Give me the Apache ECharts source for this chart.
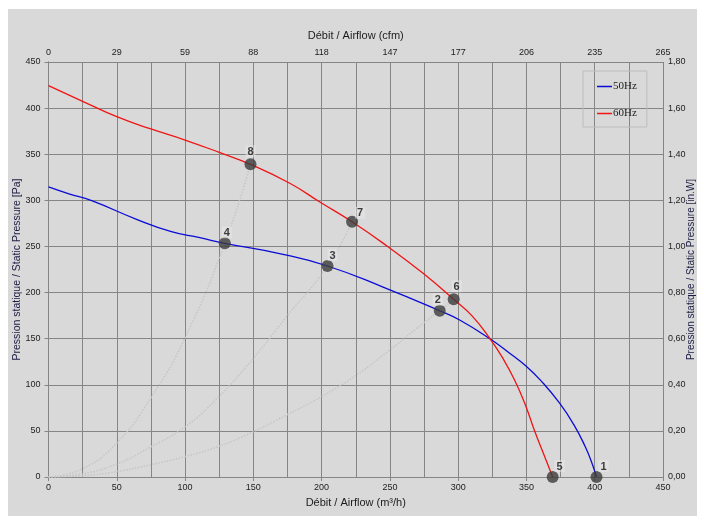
<!DOCTYPE html>
<html>
<head>
<meta charset="utf-8">
<title>Débit / Pression</title>
<script src="https://cdn.jsdelivr.net/npm/echarts@6/dist/echarts.min.js"></script>
<style>
	html, body { margin: 0; padding: 0; background: #fff; }
	#chart { width: 704px; height: 525px; }
</style>
</head>
<body>
<div id="chart"></div>
<script>
	// courbes : [débit m³/h, pression Pa]
	var curve50 = [[0,314.5],[15,307],[31.6,299.6],[64.5,279.4],[90,266],[110.8,259.5],[129.1,253.4],[170,242],[204.3,228.8],[245,206],[286.5,180.3],[301.1,170.2],[323.5,149.6],[337,135],[349.9,120],[360.9,104],[374.3,80],[385,56],[393,33],[398,15],[401.3,0]];
	var curve60 = [[0,424.3],[25,407.4],[50,390.7],[75,377.4],[100,365.4],[125,352],[147.9,339],[176.7,318.5],[198.7,298.2],[222.3,276.8],[248.6,249.7],[274.3,220.9],[296.7,192.7],[310,175],[323.5,149.6],[333,128],[341.3,105.2],[349,79],[356,49.9],[362.6,25],[369.2,0]];

	// courbes réseau (pointillés)
	var system1 = [[0,0],[25,9],[50,37],[75,86],[100,151],[129.1,253.4],[147.9,339]];
	var system2 = [[0,0],[25,3.5],[50,14],[72.8,31],[99.6,54],[124,86],[148.9,126.9],[174.3,173.8],[204.3,228.8],[222.3,276.8]];
	var system3 = [[0,0],[25,1.4],[49.6,5.8],[74,13],[99.6,22],[124,32.9],[149.9,49],[174.3,67.2],[199.9,87],[225.5,110.6],[249.9,137.7],[274.3,166.6],[286.5,180.3],[296.7,192.7]];

	// points de fonctionnement
	var pointNames = ['1','2','3','4','5','6','7','8'];
	var pointFlow = [401.3,286.5,204.3,129.1,369.2,296.7,222.3,147.9];
	var pointPressure = [0,180.3,228.8,253.4,0,192.7,276.8,339];
	var labelOffsets = [[7,3],[-2,3],[5,3],[2,3],[7,3],[3,1],[8,5],[0,1]];

	// étiquettes des axes secondaires
	var cfmLabels = ['0','29','59','88','118','147','177','206','235','265'];
	var inwgLabels = ['0,00','0,20','0,40','0,60','0,80','1,00','1,20','1,40','1,60','1,80'];

	var gridColor = '#858585';
	var labelFont = { color: '#1c1c1c', fontSize: 9, fontFamily: 'Liberation Sans' };
	var nameFont = { color: '#1c1c1c', fontSize: 11, fontFamily: 'Liberation Sans' };

	var points = pointNames.map(function (n, i) {
		return {
			name: n,
			value: [pointFlow[i], pointPressure[i]],
			label: { offset: labelOffsets[i] }
		};
	});

	function dotted(data) {
		return {
			type: 'line',
			data: data,
			smooth: 0.5,
			symbol: 'none',
			silent: true,
			z: 1,
			lineStyle: { color: '#c6c6c6', width: 1.5, type: 'dotted' }
		};
	}

	var chart = echarts.init(document.getElementById('chart'));
	chart.setOption({
		animation: false,
		backgroundColor: '#fff',
		graphic: [{
			type: 'rect',
			z: -10,
			shape: { x: 8, y: 9, width: 689, height: 507 },
			style: { fill: '#d9d9d9' }
		}],
		grid: { left: 48.5, right: 41, top: 62, bottom: 48, outerBoundsMode: 'none', containLabel: false },
		legend: {
			orient: 'vertical',
			left: 583,
			top: 71,
			padding: [10, 10, 8, 14],
			itemGap: 16,
			itemWidth: 15,
			itemHeight: 1.5,
			icon: 'rect',
			borderColor: '#bdbdbd',
			borderWidth: 1,
			textStyle: { color: '#1c1c1c', fontSize: 11, fontFamily: 'Liberation Serif', padding: [0, 0, 0, -4] },
			data: ['50Hz', '60Hz']
		},
		xAxis: [{
			type: 'value',
			position: 'bottom',
			min: 0, max: 450, interval: 50,
			name: 'Débit / Airflow (m³/h)',
			nameLocation: 'middle',
			nameGap: 20,
			nameMoveOverlap: false,
			nameTextStyle: nameFont,
			axisLine: { show: true, lineStyle: { color: gridColor } },
			axisTick: { show: true, length: 4, lineStyle: { color: gridColor } },
			axisLabel: Object.assign({ margin: 6 }, labelFont),
			splitLine: { show: true, lineStyle: { color: gridColor, width: 1 } },
			minorTick: { show: false, splitNumber: 2 },
			minorSplitLine: { show: true, lineStyle: { color: gridColor, width: 1 } }
		}, {
			type: 'value',
			position: 'top',
			min: 0, max: 450, interval: 50,
			name: 'Débit / Airflow (cfm)',
			nameLocation: 'middle',
			nameGap: 21,
			nameMoveOverlap: false,
			nameTextStyle: nameFont,
			axisLine: { show: true, lineStyle: { color: gridColor } },
			axisTick: { show: true, length: 4, lineStyle: { color: gridColor } },
			axisLabel: Object.assign({
				margin: 5,
				formatter: function (v) { return cfmLabels[Math.round(v / 50)]; }
			}, labelFont),
			splitLine: { show: false }
		}],
		yAxis: [{
			type: 'value',
			position: 'left',
			min: 0, max: 450, interval: 50,
			name: 'Pression statique / Static Pressure [Pa]',
			nameLocation: 'middle',
			nameRotate: 90,
			nameGap: 26,
			nameMoveOverlap: false,
			nameTextStyle: { color: '#1c1c44', fontSize: 10.5, fontFamily: 'Liberation Sans' },
			axisLine: { show: true, lineStyle: { color: gridColor } },
			axisTick: { show: true, length: 4, lineStyle: { color: gridColor } },
			axisLabel: Object.assign({ margin: 8 }, labelFont),
			splitLine: { show: true, lineStyle: { color: gridColor, width: 1 } }
		}, {
			type: 'value',
			position: 'right',
			min: 0, max: 1.8, interval: 0.2,
			name: 'Pression statique / Static Pressure [in.W]',
			nameLocation: 'middle',
			nameRotate: 90,
			nameGap: 23,
			nameMoveOverlap: false,
			nameTextStyle: { color: '#1c1c44', fontSize: 10, fontFamily: 'Liberation Sans' },
			axisLine: { show: true, lineStyle: { color: gridColor } },
			axisTick: { show: true, length: 4, lineStyle: { color: gridColor } },
			axisLabel: Object.assign({
				margin: 5,
				formatter: function (v) { return inwgLabels[Math.round(v / 0.2)]; }
			}, labelFont),
			splitLine: { show: false }
		}],
		series: [
			dotted(system1),
			dotted(system2),
			dotted(system3),
			{
				name: '50Hz',
				type: 'line',
				data: curve50,
				smooth: 0.5,
				symbol: 'none',
				z: 3,
				itemStyle: { color: '#0b0bd6' },
				lineStyle: { color: '#0b0bd6', width: 1.3 }
			},
			{
				name: '60Hz',
				type: 'line',
				data: curve60,
				smooth: 0.5,
				symbol: 'none',
				z: 3,
				itemStyle: { color: '#f01414' },
				lineStyle: { color: '#f01414', width: 1.3 }
			},
			{
				name: 'points',
				type: 'scatter',
				data: points,
				symbolSize: 12,
				z: 5,
				itemStyle: { color: '#3b3b3b' },
				label: {
					show: true,
					position: 'top',
					distance: 2,
					formatter: '{b}',
					color: '#111',
					fontSize: 11,
					fontWeight: 'bold',
					fontFamily: 'Liberation Sans',
					backgroundColor: 'rgba(235,235,235,0.6)',
					padding: [1, 2, 0, 2]
				}
			}
		]
	});
</script>
</body>
</html>
